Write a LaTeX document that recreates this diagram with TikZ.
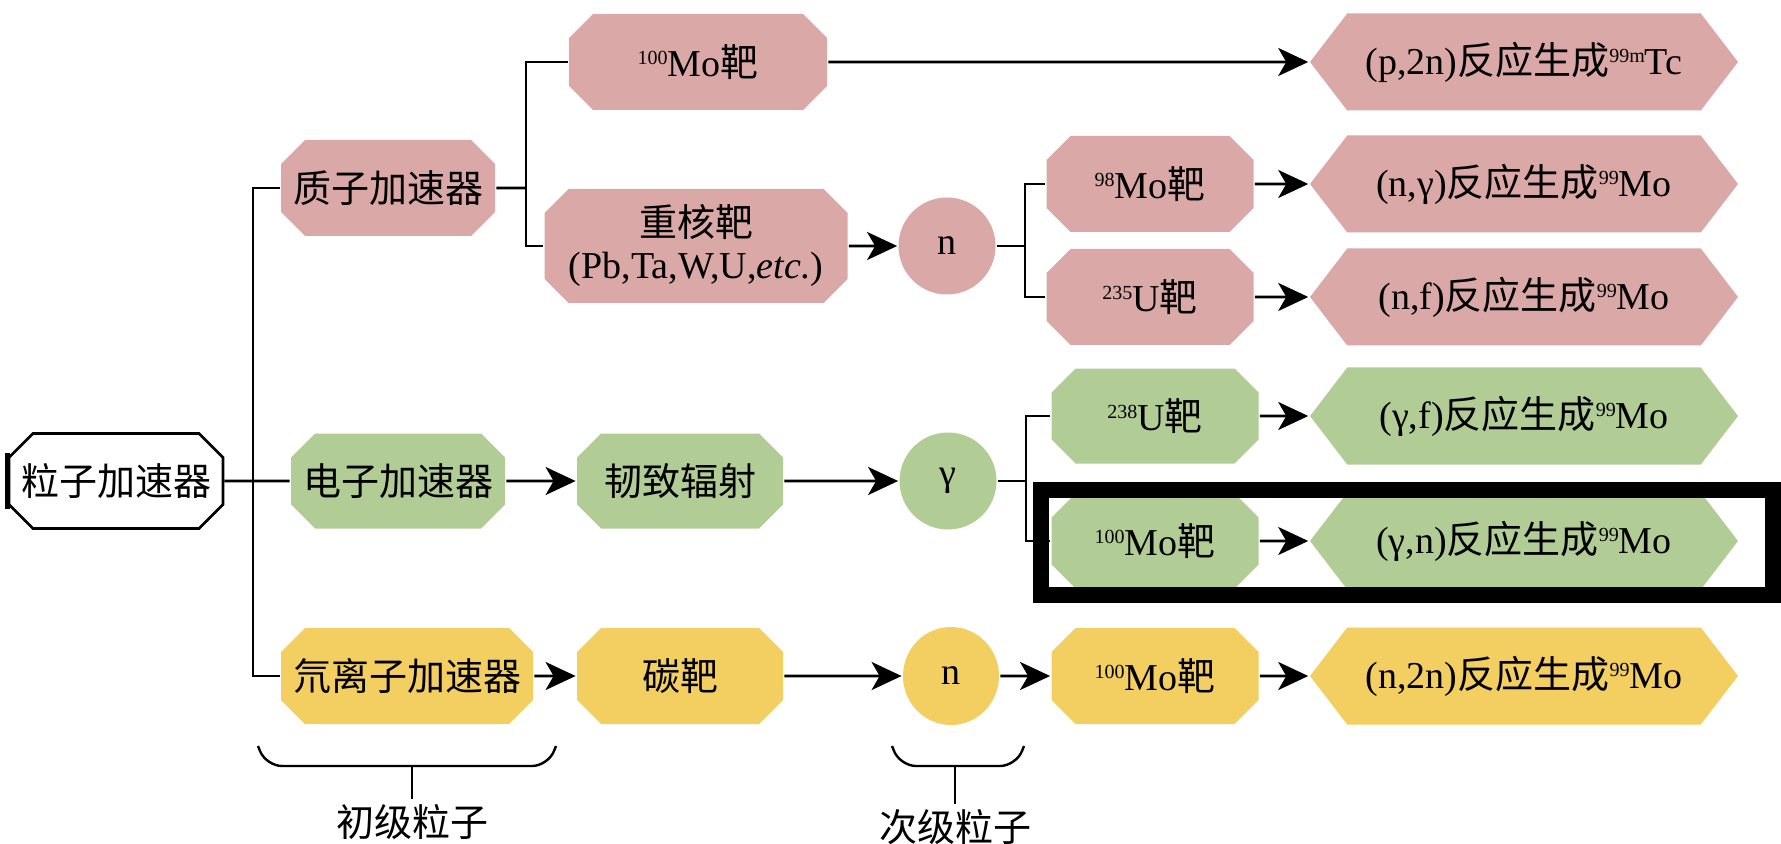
\documentclass[tikz,border=0pt]{standalone}
\usepackage{fontspec}
\setmainfont{Liberation Serif}
\newfontfamily\cjk{Noto Sans CJK SC}
\usetikzlibrary{arrows.meta,shapes.misc,shapes.symbols,shapes.geometric}

\definecolor{pinkbox}{RGB}{218,168,166}
\definecolor{greenbox}{RGB}{178,204,149}
\definecolor{yellowbox}{RGB}{243,206,96}

\newcommand{\iso}[1]{\raisebox{6pt}{\fontsize{10}{10}\selectfont #1}}

\tikzset{
	box/.style={chamfered rectangle, chamfered rectangle xsep=6pt, chamfered rectangle ysep=6pt, inner sep=0pt, minimum width=103.5pt, minimum height=48pt, align=center},
	product/.style={signal, signal to=west and east, signal pointer angle=105, inner sep=0pt, minimum width=214pt, minimum height=48.5pt},
	particle/.style={ellipse, inner sep=0pt, minimum width=48.5pt, minimum height=48.5pt},
	flow/.style={-{Stealth[length=15pt,width=14pt,inset=4pt]}},
}

\begin{document}
\begin{tikzpicture}[x=0.5pt, y=-0.5pt, line width=1.4pt, font=\fontsize{19}{21}\selectfont]
	\useasboundingbox (0,0) rectangle (1781,844);

	% Root and the three accelerators
	\node[box, draw, fill=white, minimum width=104pt, minimum height=47.5pt] (root) at (116,481) {\cjk 粒子加速器};
	\draw[line width=2.6pt] ([yshift=14pt]root.west) -- ([yshift=-14pt]root.west);
	\node[box, fill=pinkbox] (pacc) at (388,188) {\cjk 质子加速器};
	\node[box, fill=greenbox, minimum width=101.5pt, minimum height=47.5pt] (eacc) at (398,481) {\cjk 电子加速器};
	\node[box, fill=yellowbox, minimum width=123pt] (dacc) at (407,676) {\cjk 氘离子加速器};

	\coordinate (trunk) at (253,481);
	\draw (root) -- (eacc);
	\draw (pacc.west) -| (trunk) |- (dacc.west);

	% Proton route
	\node[box, fill=pinkbox, minimum width=129pt] (mopt) at (698,62) {\iso{100}Mo{\cjk 靶}};
	\node[box, fill=pinkbox, minimum width=151.5pt, minimum height=57pt] (heavy) at (696,246) {{\cjk 重核靶}\\(Pb,Ta,W,U,\textit{etc.})};
	\node[particle, fill=pinkbox] (np) at (947,246) {n};
	\node[box, fill=pinkbox] (mo98) at (1150,184) {\iso{98}Mo{\cjk 靶}};
	\node[box, fill=pinkbox] (u235) at (1150,297) {\iso{235}U{\cjk 靶}};
	\node[product, fill=pinkbox] (tcp) at (1524,62) {(p,2n){\cjk 反应生成}\iso{99m}Tc};
	\node[product, fill=pinkbox] (ngam) at (1524,184) {(n,γ){\cjk 反应生成}\iso{99}Mo};
	\node[product, fill=pinkbox] (nfis) at (1524,297) {(n,f){\cjk 反应生成}\iso{99}Mo};

	\coordinate (pfork) at (526,188);
	\coordinate (nfork) at (1025,246);
	\draw (pacc) -- (pfork);
	\draw (mopt.west) -| (pfork) |- (heavy.west);
	\draw[flow] (mopt) -- (tcp);
	\draw[flow] (heavy) -- (np);
	\draw (np) -- (nfork);
	\draw (mo98.west) -| (nfork) |- (u235.west);
	\draw[flow] (mo98) -- (ngam);
	\draw[flow] (u235) -- (nfis);

	% Electron route
	\node[box, fill=greenbox, minimum width=103pt, minimum height=47.5pt] (brems) at (680,481) {\cjk 韧致辐射};
	\node[particle, fill=greenbox] (gam) at (948,481) {γ};
	\node[box, fill=greenbox, minimum height=47.5pt] (u238) at (1155,416) {\iso{238}U{\cjk 靶}};
	\node[box, fill=greenbox, minimum height=47.5pt] (mog) at (1155,541) {\iso{100}Mo{\cjk 靶}};
	\node[product, fill=greenbox] (gfis) at (1524,416) {(γ,f){\cjk 反应生成}\iso{99}Mo};
	\node[product, fill=greenbox] (gn) at (1524,541) {(γ,n){\cjk 反应生成}\iso{99}Mo};

	\coordinate (gfork) at (1026,481);
	\draw[flow] (eacc) -- (brems);
	\draw[flow] (brems) -- (gam);
	\draw (gam) -- (gfork);
	\draw (u238.west) -| (gfork) |- (mog.west);
	\draw[flow] (u238) -- (gfis);
	\draw[flow] (mog) -- (gn);

	% Highlight of the chosen route
	\draw[line width=8pt] (1041,490) rectangle (1773,595);

	% Deuteron route
	\node[box, fill=yellowbox, minimum width=103pt] (carbon) at (680,676) {\cjk 碳靶};
	\node[particle, fill=yellowbox, minimum width=48pt, minimum height=49pt] (nd) at (951,676) {n};
	\node[box, fill=yellowbox] (mod) at (1155,676) {\iso{100}Mo{\cjk 靶}};
	\node[product, fill=yellowbox] (n2n) at (1524,676) {(n,2n){\cjk 反应生成}\iso{99}Mo};

	\draw[flow] (dacc) -- (carbon);
	\draw[flow] (carbon) -- (nd);
	\draw[flow] (nd) -- (mod);
	\draw[flow] (mod) -- (n2n);

	% Braces below the rows
	\node[inner sep=2pt] (prim) at (412,822) {\cjk 初级粒子};
	\node[inner sep=2pt] (sec) at (955,827) {\cjk 次级粒子};
	\draw[line width=1.2pt, rounded corners=8pt] (258,746) -- (266,766) -- (548,766) -- (556,746);
	\draw[line width=1.2pt, rounded corners=8pt] (892,746) -- (900,766) -- (1016,766) -- (1024,746);
	\draw[line width=1.2pt] (412,766) -- (prim.north);
	\draw[line width=1.2pt] (955,766) -- (sec.north);

\end{tikzpicture}
\end{document}
